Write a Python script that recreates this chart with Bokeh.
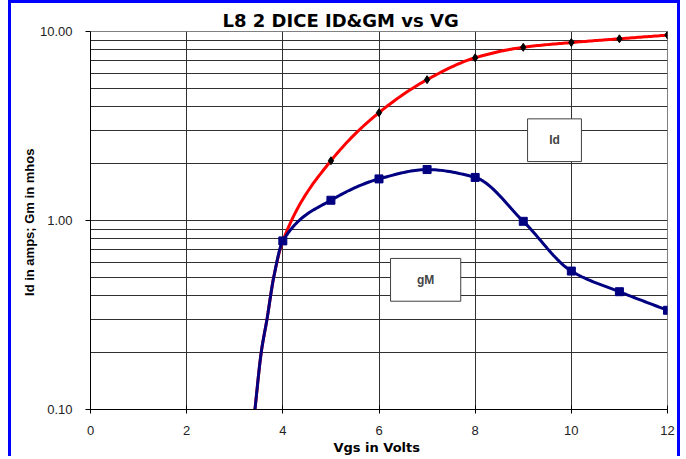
import numpy as np
from bokeh.plotting import figure
from bokeh.models import Range1d, FixedTicker, PrintfTickFormatter, Label, BoxAnnotation
from bokeh.embed import file_html
from bokeh.resources import INLINE

# ---- data ----
vgs = [3.42, 3.55, 3.67, 3.81, 4, 5, 6, 7, 8, 9, 10, 11, 12]
id_amps = [0.10, 0.20, 0.30, 0.50, 0.78, 2.07, 3.72, 5.56, 7.26, 8.25, 8.74, 9.15, 9.57]
gm_mhos = [0.10, 0.20, 0.30, 0.50, 0.78, 1.28, 1.66, 1.86, 1.69, 0.99, 0.54, 0.42, 0.335]
first_marker = 4  # points from Vgs = 4 on carry markers
x_ticks = [0, 2, 4, 6, 8, 10, 12]
y_ticks = [0.1, 1, 10]
y_minor = [0.2, 0.3, 0.4, 0.5, 0.6, 0.7, 0.8, 0.9, 2, 3, 4, 5, 6, 7, 8, 9]
title_text = "L8 2 DICE  ID&GM vs VG"
x_title = "Vgs  in Volts"
y_title = "Id in amps;  Gm in mhos"
label_id = "Id"
label_gm = "gM"


def smooth(xs, ys, n=24):
    """Monotone cubic (PCHIP) through the points, in (x, log10 y) space."""
    x = np.asarray(xs, float)
    y = np.log10(np.asarray(ys, float))
    h = np.diff(x)
    d = np.diff(y) / h
    m = np.zeros_like(y)
    m[0], m[-1] = d[0], d[-1]
    for k in range(1, len(x) - 1):
        if d[k - 1] * d[k] <= 0:
            m[k] = 0.0
        else:
            w1 = 2 * h[k] + h[k - 1]
            w2 = h[k] + 2 * h[k - 1]
            m[k] = (w1 + w2) / (w1 / d[k - 1] + w2 / d[k])
    ox, oy = [], []
    for k in range(len(x) - 1):
        t = np.linspace(0, 1, n, endpoint=(k == len(x) - 2))
        h00 = 2 * t**3 - 3 * t**2 + 1
        h10 = t**3 - 2 * t**2 + t
        h01 = -2 * t**3 + 3 * t**2
        h11 = t**3 - t**2
        ox.extend(x[k] + t * h[k])
        oy.extend(h00 * y[k] + h10 * h[k] * m[k] + h01 * y[k + 1] + h11 * h[k] * m[k + 1])
    return ox, list(10 ** np.array(oy))


p = figure(
    width=672, height=456,
    x_range=Range1d(0, 12), y_range=Range1d(0.1, 10),
    y_axis_type="log",
    output_backend="svg", toolbar_location=None,
    min_border_left=0, min_border_right=23, min_border_top=28, min_border_bottom=50,
    background_fill_color="white", border_fill_color="white",
)
p.styles = {"margin-left": "8px", "padding-left": "7px", "background-color": "white",
            "border-left": "3px solid #0000FF", "border-right": "3px solid #0000FF",
            "border-top": "3px solid #0000FF"}
p.outline_line_color = "#808080"
p.outline_line_width = 1

# title
p.title.text = title_text
p.title.align = "left"
p.title.offset = 132
p.title.standoff = 1
p.title.text_font = "DejaVu Sans"
p.title.text_font_style = "bold"
p.title.text_font_size = "18px"
p.title.text_color = "black"

# axes
p.xaxis.ticker = FixedTicker(ticks=x_ticks)
p.yaxis.ticker = FixedTicker(ticks=y_ticks, minor_ticks=y_minor)
p.yaxis.formatter = PrintfTickFormatter(format="%.2f")
for ax in (p.xaxis, p.yaxis):
    ax.axis_line_color = "black"
    ax.major_tick_line_color = "black"
    ax.minor_tick_line_color = None
    ax.major_label_text_font = "Liberation Sans"
    ax.major_label_text_font_size = "13px"
    ax.major_label_text_color = "#222222"
    ax.axis_label_text_font_style = "bold"
    ax.axis_label_text_color = "black"
    ax.axis_label_text_font_size = "13px"
p.xaxis.major_tick_in = 4
p.xaxis.major_tick_out = 4
p.xaxis.major_label_standoff = 12
p.xaxis.axis_label = x_title
p.xaxis.axis_label_text_font = "DejaVu Sans"
p.xaxis.axis_label_standoff = 2
p.yaxis.major_tick_in = 0
p.yaxis.major_tick_out = 5
p.yaxis.major_label_standoff = 13
p.yaxis.axis_label = y_title
p.yaxis.axis_label_text_font = "Liberation Sans"
p.yaxis.axis_label_standoff = 0

# grids
p.xgrid.grid_line_color = "#303030"
p.xgrid.grid_line_width = 1
p.ygrid.grid_line_color = "#303030"
p.ygrid.minor_grid_line_color = "#303030"
p.ygrid.grid_line_width = 1
p.ygrid.minor_grid_line_width = 1

# curves
ix, iy = smooth(vgs, id_amps)
gx, gy = smooth(vgs, gm_mhos)
p.line(ix, iy, line_color="#FF0000", line_width=3)
p.scatter(vgs[first_marker:], id_amps[first_marker:], marker="diamond", size=8,
          fill_color="black", line_color="black")
p.line(gx, gy, line_color="#000080", line_width=3)
p.scatter(vgs[first_marker:], gm_mhos[first_marker:], marker="square", size=8,
          fill_color="#000080", line_color="#000080")

# text boxes
p.add_layout(BoxAnnotation(left=9.09, right=10.21, bottom=2.05, top=3.45,
                           fill_color="white", fill_alpha=1.0,
                           line_color="#404040", line_width=1, line_alpha=1.0))
p.add_layout(BoxAnnotation(left=6.24, right=7.70, bottom=0.374, top=0.63,
                           fill_color="white", fill_alpha=1.0,
                           line_color="#404040", line_width=1, line_alpha=1.0))
p.add_layout(Label(x=9.65, y=2.66, text=label_id, text_align="center", text_baseline="middle",
                   text_font="Liberation Sans", text_font_style="bold", text_font_size="12px"))
p.add_layout(Label(x=6.97, y=0.485, text=label_gm, text_align="center", text_baseline="middle",
                   text_font="Liberation Sans", text_font_style="bold", text_font_size="12px"))

open("out.html", "w").write(file_html(p, INLINE))
